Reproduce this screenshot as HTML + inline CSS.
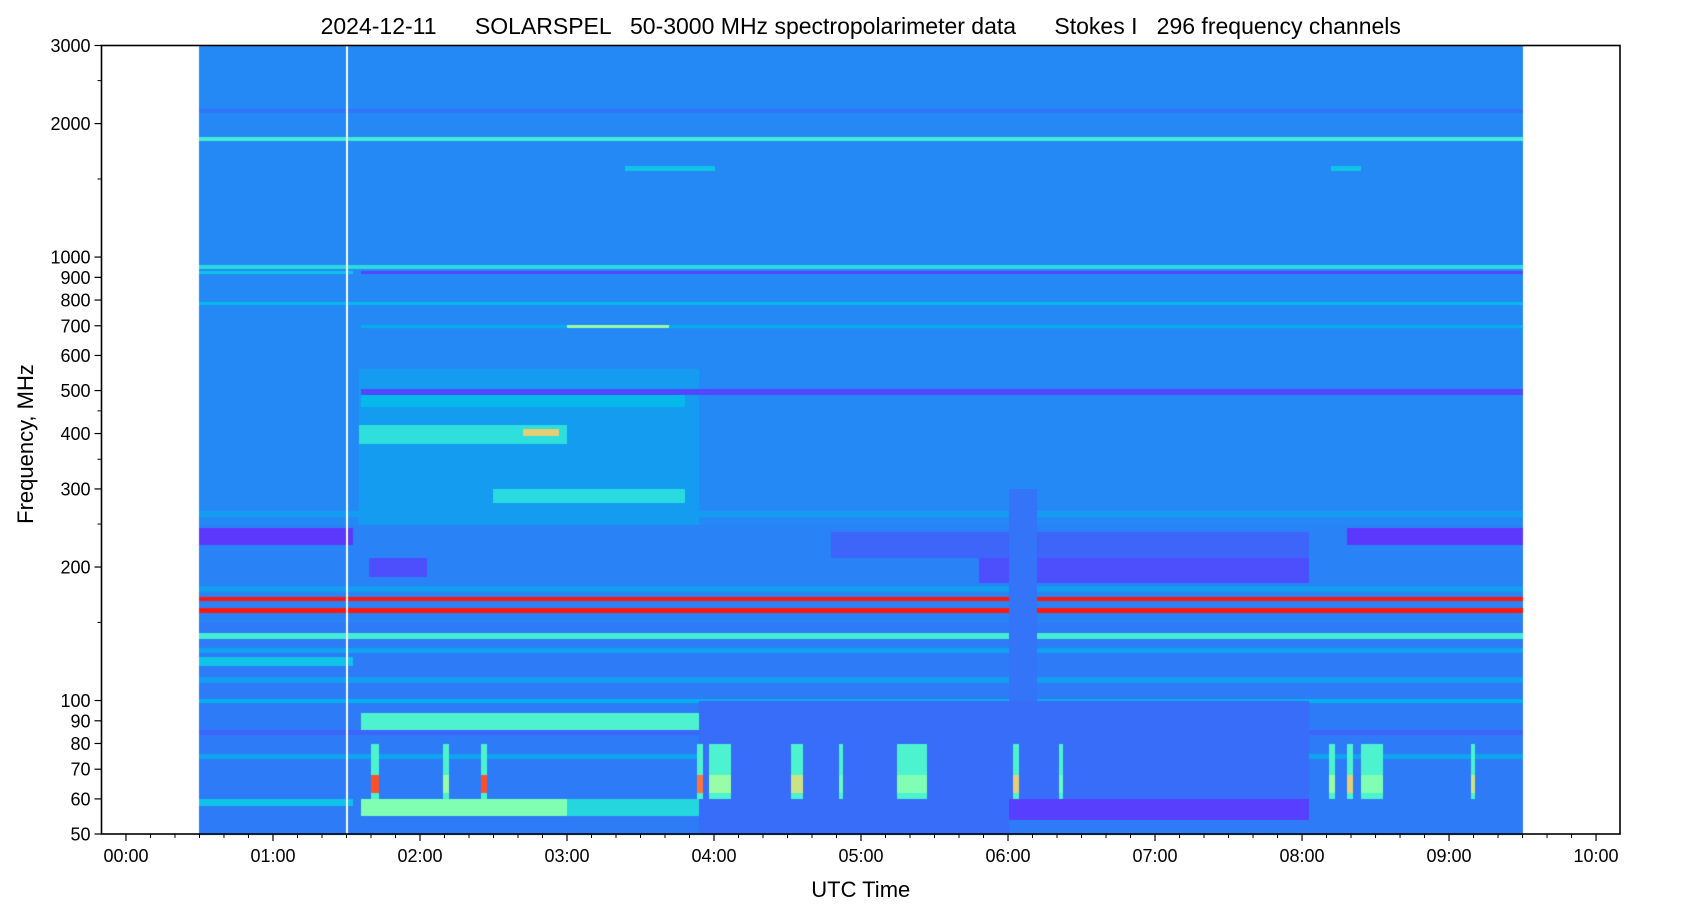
<!DOCTYPE html>
<html><head><meta charset="utf-8">
<style>
html,body{margin:0;padding:0;background:#fff;}
#wrap{position:relative;width:1687px;height:906px;font-family:"Liberation Sans","DejaVu Sans",sans-serif;color:#000;}
canvas{position:absolute;left:0;top:0;}
svg{position:absolute;left:0;top:0;}
</style></head>
<body>
<div id="wrap">
<canvas id="cv" width="1687" height="906"></canvas>
<svg id="ax" width="1687" height="906"></svg>
</div>
<script>
// ---- data ----
const bandLo    = [50,  50,  150, 250, 110, 128, 176, 260, 74,  84,  250, 380, 395, 460, 280, 490, 225, 225, 190, 185, 210, 168, 158, 138, 120, 99,  86,  88,  88,  55,  55,  54,  58,  1830,2120,1570,1570,940, 920, 920, 780, 695, 695, 100, 60,  50];
const bandHi    = [3000,150, 300, 300, 113, 132, 182, 268, 76,  86,  560, 420, 410, 495, 300, 505, 245, 245, 210, 215, 240, 172, 162, 142, 126, 101, 94,  94,  94,  60,  60,  60,  60,  1870,2160,1610,1610,960, 935, 935, 795, 705, 705, 300, 100, 60];
const bandStart = [0.5, 0.5, 0.5, 0.5, 0.5, 0.5, 0.5, 0.5, 0.5, 0.5, 1.58,1.58,2.7, 1.6, 2.5, 1.6, 0.5, 8.3, 1.65,5.8, 4.8, 0.5, 0.5, 0.5, 0.5, 0.5, 1.6, 6.0, 7.5, 1.6, 3.0, 6.0, 0.5, 0.5, 0.5, 3.4, 8.2, 0.5, 0.5, 1.6, 0.5, 1.6, 3.0, 6.0, 3.9, 3.9];
const bandEnd   = [9.5, 9.5, 9.5, 9.5, 9.5, 9.5, 9.5, 9.5, 9.5, 9.5, 3.9, 3.0, 2.95,3.8, 3.8, 9.5, 1.55,9.5, 2.05,8.05,8.05,9.5, 9.5, 9.5, 1.55,9.5, 4.0, 6.2, 8.05,3.0, 3.9, 8.05,1.55,9.5, 9.5, 4.0, 8.4, 9.5, 1.55,9.5, 9.5, 9.5, 3.7, 6.2, 8.05,6.0];
const bandVal   = [0.18,0.16,0.17,0.18,0.21,0.22,0.21,0.21,0.22,0.13,0.21,0.34,0.70,0.26,0.33,0.09,0.07,0.07,0.10,0.10,0.13,0.97,0.97,0.38,0.28,0.24,0.40,0.08,0.09,0.50,0.32,0.08,0.28,0.38,0.15,0.28,0.28,0.33,0.28,0.09,0.26,0.24,0.55,0.15,0.14,0.14];
const burstStart = [1.66,2.15,2.42,3.88,3.97,4.52,4.85,5.25,6.03,6.35,8.18,8.30,8.40,9.15];
const burstEnd   = [1.72,2.20,2.45,3.92,4.12,4.60,4.88,5.45,6.07,6.38,8.22,8.35,8.55,9.18];
const burstVal   = [0.90,0.55,0.90,0.85,0.55,0.65,0.45,0.50,0.70,0.45,0.55,0.70,0.50,0.65];
const xTickLabels = ["00:00","01:00","02:00","03:00","04:00","05:00","06:00","07:00","08:00","09:00","10:00"];
const yTickValues = [50,60,70,80,90,100,200,300,400,500,600,700,800,900,1000,2000,3000];
const yMinorValues = [150,250,350,450,1500,2500];

// ---- axes ----
const L=101.5,R=1620,T=45.5,B=834;
const tMin=-0.1665,tMax=10.163;
const X=t=>L+(t-tMin)/(tMax-tMin)*(R-L);
const Y=f=>T+(Math.log10(3000)-Math.log10(f))/(Math.log10(3000)-Math.log10(50))*(B-T);
const Finv=y=>Math.pow(10,Math.log10(3000)-(y-T)/(B-T)*(Math.log10(3000)-Math.log10(50)));
function cmap(x){x=Math.max(0,Math.min(1,x));
 const r=Math.min(1,Math.abs(2*x-0.5)),g=Math.sin(Math.PI*x),b=Math.cos(Math.PI*x/2);
 return [Math.round(r*255),Math.round(g*255),Math.round(b*255)];}
function value(t,f){
 let v=0.18;
 for(let i=0;i<bandLo.length;i++){
  if(f>=bandLo[i]&&f<bandHi[i]&&t>=bandStart[i]&&t<bandEnd[i]) v=bandVal[i];
 }
 for(let i=0;i<burstStart.length;i++){
  if(t>=burstStart[i]&&t<burstEnd[i]){
   if(f>=62&&f<68) v=burstVal[i];
   else if(f>=60&&f<80&&v<0.4) v=0.4;
  }
 }
 return v;
}
const cv=document.getElementById('cv');const ctx=cv.getContext('2d');
const x0=Math.round(X(0.5)),x1=Math.round(X(9.5));
const img=ctx.createImageData(x1-x0,Math.round(B-T));
for(let py=0;py<img.height;py++){
 const f=Finv(T+py+0.5);
 for(let px=0;px<img.width;px+=2){
  const t=tMin+(x0+px+1-L)/(R-L)*(tMax-tMin);
  const c=cmap(value(t,f));
  for(let k=0;k<2&&px+k<img.width;k++){const o=(py*img.width+px+k)*4;img.data[o]=c[0];img.data[o+1]=c[1];img.data[o+2]=c[2];img.data[o+3]=255;}
 }
}
ctx.putImageData(img,x0,Math.round(T));
ctx.fillStyle='#fff';ctx.fillRect(Math.round(X(1.5)),Math.round(T),2,Math.round(B-T));

const ns='http://www.w3.org/2000/svg';const svg=document.getElementById('ax');
function el(tag,attrs,txt){const e=document.createElementNS(ns,tag);for(const k in attrs)e.setAttribute(k,attrs[k]);if(txt!==undefined)e.textContent=txt;svg.appendChild(e);return e;}
let e=el('rect',{x:L,y:T,width:R-L,height:B-T,fill:'none',stroke:'#000','stroke-width':1.6});


xTickLabels.forEach((lab,i)=>{
 const x=X(i);
 const t=el('line',{x1:x,x2:x,y1:B,y2:B+7,stroke:'#000','stroke-width':1.2});
 
 
 const tx=el('text',{x:x,y:B+28,'font-size':18,'text-anchor':'middle'},lab);
 
 
});
for(let m=-1;m<=61;m++){const t=m/6;if(m%6===0)continue;const x=X(t);if(x<L||x>R)continue;
 const l=el('line',{x1:x,x2:x,y1:B,y2:B+4,stroke:'#000','stroke-width':1});
 
 }
yTickValues.forEach(v=>{const y=Y(v);
 const t=el('line',{x1:L-7,x2:L,y1:y,y2:y,stroke:'#000','stroke-width':1.2});
 
 
 const tx=el('text',{x:L-11,y:y+6.5,'font-size':18,'text-anchor':'end'},String(v));
 
 });
yMinorValues.forEach(v=>{const y=Y(v);
 const t=el('line',{x1:L-4,x2:L,y1:y,y2:y,stroke:'#000','stroke-width':1});
 
 });
e=el('text',{x:(L+R)/2,y:34,'font-size':23,'text-anchor':'middle'},'2024-12-11      SOLARSPEL   50-3000 MHz spectropolarimeter data      Stokes I   296 frequency channels');
e.setAttribute('style','white-space:pre');


e=el('text',{x:(L+R)/2,y:897,'font-size':22,'text-anchor':'middle'},'UTC Time');


e=el('text',{x:0,y:0,'font-size':22,'text-anchor':'middle',transform:'translate(33,444) rotate(-90)'},'Frequency, MHz');


</script>
</body></html>
